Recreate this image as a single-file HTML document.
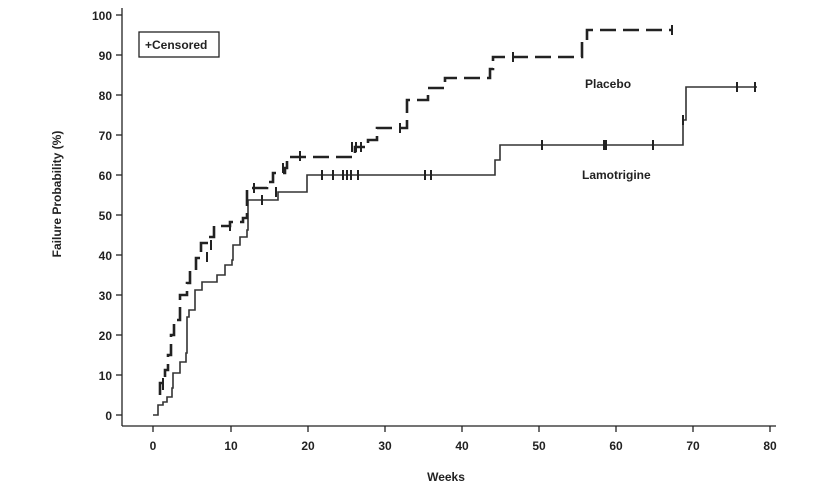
<!DOCTYPE html>
<html><head><meta charset="utf-8"><style>body{margin:0;background:#fff}svg{display:block}text{font-family:"Liberation Sans",Arial,sans-serif;font-weight:bold;fill:#222}</style></head><body>
<svg width="826" height="491" viewBox="0 0 826 491">
<g stroke="#222" stroke-width="1.3" fill="none">
<line x1="122" y1="8" x2="122" y2="426"/>
<line x1="122" y1="426" x2="776" y2="426"/>
<line x1="116" y1="15" x2="122" y2="15"/><line x1="116" y1="55" x2="122" y2="55"/><line x1="116" y1="95" x2="122" y2="95"/><line x1="116" y1="135" x2="122" y2="135"/><line x1="116" y1="175" x2="122" y2="175"/><line x1="116" y1="215" x2="122" y2="215"/><line x1="116" y1="255" x2="122" y2="255"/><line x1="116" y1="295" x2="122" y2="295"/><line x1="116" y1="335" x2="122" y2="335"/><line x1="116" y1="375" x2="122" y2="375"/><line x1="116" y1="415" x2="122" y2="415"/>
<line x1="153" y1="426" x2="153" y2="432"/><line x1="231" y1="426" x2="231" y2="432"/><line x1="308" y1="426" x2="308" y2="432"/><line x1="385" y1="426" x2="385" y2="432"/><line x1="462" y1="426" x2="462" y2="432"/><line x1="539" y1="426" x2="539" y2="432"/><line x1="616" y1="426" x2="616" y2="432"/><line x1="693" y1="426" x2="693" y2="432"/><line x1="770" y1="426" x2="770" y2="432"/>
<rect x="139" y="32" width="80" height="25"/>
</g>
<g font-size="12" text-anchor="end">
<text x="112" y="20">100</text><text x="112" y="60">90</text><text x="112" y="100">80</text><text x="112" y="140">70</text><text x="112" y="180">60</text><text x="112" y="220">50</text><text x="112" y="260">40</text><text x="112" y="300">30</text><text x="112" y="340">20</text><text x="112" y="380">10</text><text x="112" y="420">0</text>
</g>
<g font-size="12" text-anchor="middle">
<text x="153" y="450">0</text><text x="231" y="450">10</text><text x="308" y="450">20</text><text x="385" y="450">30</text><text x="462" y="450">40</text><text x="539" y="450">50</text><text x="616" y="450">60</text><text x="693" y="450">70</text><text x="770" y="450">80</text>
<text x="446" y="481">Weeks</text>
<text x="61" y="194" transform="rotate(-90 61 194)">Failure Probability (%)</text>
</g>
<text x="145" y="49" font-size="12">+Censored</text>
<text x="585" y="88" font-size="12">Placebo</text>
<text x="582" y="179" font-size="12">Lamotrigine</text>
<path d="M153,415 H158 V405 H163 V402 H167 V397 H172 V388 H173 V373 H180 V362 H186 V353 H187 V317 H189 V310 H195 V290 H202 V282 H217 V275 H225 V265 H232 V260 H233 V245 H240 V237 H247 V230 H248 V200 H278 V192 H307 V175 H495 V160 H500 V145 H683 V120 H686 V87 H757" stroke="#333" stroke-width="1.6" fill="none"/>
<path d="M160,395 V383 H165 V370 H168 V355 H171 V335 H174 V320 H180 V295 H187 V283 H190 V270 H196 V258 H201 V243 H208 V237 H214 V226 H230 V222 H243 V218 H247 V188 H267 V182 H273 V173 H285 V168 H287 V157 H355 V147 H368 V140 H377 V128 H407 V100 H417 V100 H428 V88 H445 V78 H490 V69 H493 V57 H505 H582 V40 H587 V30 H672" stroke="#222" stroke-width="2.6" fill="none" stroke-dasharray="16,7"/>
<g stroke="#222" stroke-width="2">
<line x1="163" y1="378" x2="163" y2="390"/><line x1="207" y1="252" x2="207" y2="262"/><line x1="211" y1="240" x2="211" y2="250"/><line x1="230" y1="221" x2="230" y2="231"/><line x1="254" y1="183" x2="254" y2="193"/><line x1="262" y1="195" x2="262" y2="205"/><line x1="283" y1="163" x2="283" y2="173"/><line x1="300" y1="151" x2="300" y2="161"/><line x1="352" y1="142" x2="352" y2="152"/><line x1="356" y1="142" x2="356" y2="152"/><line x1="361" y1="142" x2="361" y2="152"/><line x1="400" y1="123" x2="400" y2="133"/><line x1="513" y1="52" x2="513" y2="62"/><line x1="672" y1="25" x2="672" y2="35"/>
<line x1="276" y1="187" x2="276" y2="197"/><line x1="322" y1="170" x2="322" y2="180"/><line x1="333" y1="170" x2="333" y2="180"/><line x1="343" y1="170" x2="343" y2="180"/><line x1="347" y1="170" x2="347" y2="180"/><line x1="351" y1="170" x2="351" y2="180"/><line x1="358" y1="170" x2="358" y2="180"/><line x1="425" y1="170" x2="425" y2="180"/><line x1="431" y1="170" x2="431" y2="180"/><line x1="542" y1="140" x2="542" y2="150"/><line x1="604" y1="140" x2="604" y2="150"/><line x1="606" y1="140" x2="606" y2="150"/><line x1="653" y1="140" x2="653" y2="150"/><line x1="683" y1="115" x2="683" y2="125"/><line x1="737" y1="82" x2="737" y2="92"/><line x1="755" y1="82" x2="755" y2="92"/>
</g>
</svg>
</body></html>
